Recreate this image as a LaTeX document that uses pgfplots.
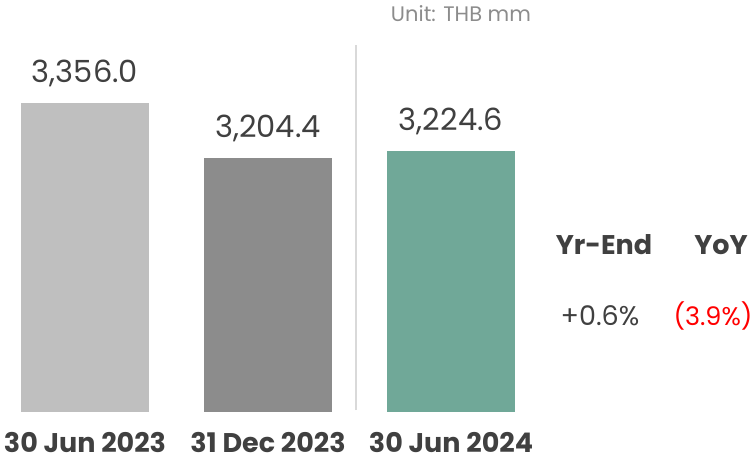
\documentclass[border=0pt]{standalone}
\usepackage{pgfplots}
\pgfplotsset{compat=1.18}
\usepackage{fontspec}
\setmainfont{Poppins}
\definecolor{txt}{HTML}{404040}
\definecolor{barA}{HTML}{BFBFBF}
\definecolor{barB}{HTML}{8C8C8C}
\definecolor{barC}{HTML}{70A898}
\definecolor{sep}{HTML}{D9D9D9}
\begin{document}
\begin{tikzpicture}
\begin{axis}[
  scale only axis, width=756pt, height=412pt,
  xmin=-0.46448, xmax=3.66667,
  ymin=2504, ymax=3639.6,
  axis line style={draw=none},
  ytick=\empty,
  xtick={0,1,2},
  xticklabels={30 Jun 2023,31 Dec 2023,30 Jun 2024},
  major tick length=0pt,
  xticklabel style={anchor=base, inner sep=0pt, yshift=-40pt, font=\fontsize{27}{30}\selectfont\bfseries, text=txt},
  ybar, bar width=128pt, bar shift=0pt,
  clip=false,
  point meta=explicit symbolic,
  nodes near coords,
  nodes near coords style={anchor=base, yshift=20pt, font=\fontsize{30.5}{34}\selectfont, text=txt},
]
\addplot[fill=barA, draw=none] coordinates {(0,3356.0) [3,356.0]};
\addplot[fill=barB, draw=none] coordinates {(1,3204.4) [3,204.4]};
\addplot[fill=barC, draw=none] coordinates {(2,3224.6) [3,224.6]};
\draw[sep, line width=1.5pt] (axis cs:1.4809,2509.5) -- (axis cs:1.4809,3515.6);
\node[anchor=base, text=gray!90, font=\fontsize{21}{24}\selectfont] at ([xshift=461pt,yshift=391pt]rel axis cs:0,0) {Unit: THB mm};
\node[anchor=base, text=txt, font=\fontsize{27}{30}\selectfont\bfseries] at ([xshift=604pt,yshift=158pt]rel axis cs:0,0) {Yr-End};
\node[anchor=base, text=txt, font=\fontsize{27}{30}\selectfont\bfseries] at ([xshift=721pt,yshift=158pt]rel axis cs:0,0) {YoY};
\node[anchor=base, text=txt, font=\fontsize{27}{30}\selectfont] at ([xshift=600pt,yshift=87pt]rel axis cs:0,0) {+0.6\%};
\node[anchor=base, text=red, font=\fontsize{25.5}{30}\selectfont] at ([xshift=713pt,yshift=87pt]rel axis cs:0,0) {(3.9\%)};
\path ([yshift=-46pt]rel axis cs:0,0) rectangle (rel axis cs:1,1);
\end{axis}
\end{tikzpicture}
\end{document}
